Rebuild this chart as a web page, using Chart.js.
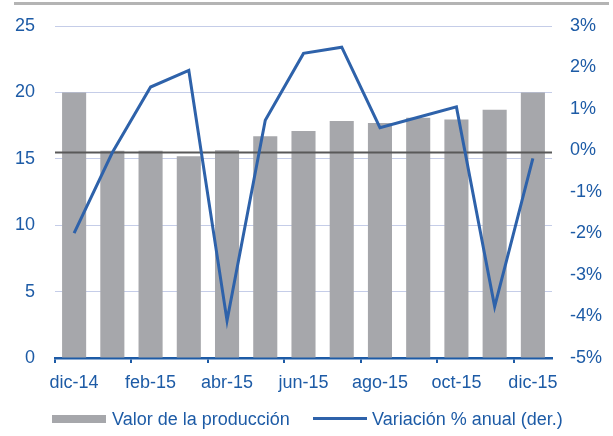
<!DOCTYPE html>
<html>
<head>
<meta charset="utf-8">
<script src="https://cdn.jsdelivr.net/npm/chart.js@4/dist/chart.umd.min.js"></script>
<style>
    body { margin: 0; background: #fff; }
    #wrap { position: relative; width: 613px; height: 436px; font-family: "Liberation Sans", Arial, sans-serif; }
    #topLine { position: absolute; left: 14px; top: 2px; width: 595px; height: 3px; background: #b4b4b4; }
    #chart { position: absolute; left: 0; top: 0; }
    .legend { position: absolute; top: 407px; height: 24px; line-height: 24px; font-size: 18px; color: #1d5ba6; white-space: nowrap; }
    .legend .mark { position: absolute; left: 0; }
</style>
</head>
<body>
<div id="wrap">
    <canvas id="chart" width="613" height="436"></canvas>
    <div id="topLine"></div>
    <div class="legend" style="left:52px;">
        <span class="mark" style="top:8px;width:54px;height:8px;background:#a6a7ab;"></span>
        <span style="padding-left:60px;">Valor de la producción</span>
    </div>
    <div class="legend" style="left:313px;">
        <span class="mark" style="top:10px;width:54px;height:3px;background:#2e62aa;"></span>
        <span style="padding-left:59px;">Variación % anual (der.)</span>
    </div>
</div>
<script>
const meses = ["dic-14", "ene-15", "feb-15", "mar-15", "abr-15", "may-15", "jun-15",
    "jul-15", "ago-15", "sep-15", "oct-15", "nov-15", "dic-15"];

// valor de la producción (eje izq.)
const valorProduccion = [20.0, 15.6, 15.6, 15.2, 15.65, 16.7, 17.1, 17.85, 17.7, 18.1, 17.95, 18.7, 20.0];

// variación % anual (eje der.)
const variacionAnual = [-1.99, -0.05, 1.53, 1.93, -4.1, 0.73, 2.34, 2.49, 0.55, 0.8, 1.05, -3.76, -0.19];

const azul = "#1d5ba6";

Chart.defaults.font.family = "'Liberation Sans', Arial, sans-serif";
Chart.defaults.font.size = 18;
Chart.defaults.color = azul;

// linea del 0% sobre las barras y debajo de la linea
const zeroLine = {
    id: "zeroLine",
    afterDatasetDraw(chart, args) {
        if (args.index !== 0) return;
        const ctx = chart.ctx;
        const y = Math.round(chart.scales.y1.getPixelForValue(0)) + 1.5;
        ctx.save();
        ctx.strokeStyle = "#595959";
        ctx.lineWidth = 2;
        ctx.beginPath();
        ctx.moveTo(chart.chartArea.left, y);
        ctx.lineTo(chart.chartArea.right, y);
        ctx.stroke();
        ctx.restore();
    }
};

const ctx = document.getElementById("chart").getContext("2d");

new Chart(ctx, {
    type: "bar",
    data: {
        labels: meses,
        datasets: [
            {
                label: "Valor de la producción",
                data: valorProduccion,
                backgroundColor: "#a6a7ab",
                barPercentage: 0.63,
                categoryPercentage: 1,
                yAxisID: "y",
                order: 2
            },
            {
                type: "line",
                label: "Variación % anual (der.)",
                data: variacionAnual,
                borderColor: "#2e62aa",
                borderWidth: 3,
                pointRadius: 0,
                tension: 0,
                yAxisID: "y1",
                order: 1
            }
        ]
    },
    options: {
        responsive: false,
        animation: false,
        layout: {
            padding: { top: 26, left: 0, right: 0, bottom: 0 }
        },
        plugins: {
            legend: { display: false },
            tooltip: { enabled: false }
        },
        scales: {
            x: {
                offset: true,
                grid: {
                    offset: true,
                    drawOnChartArea: false,
                    drawTicks: true,
                    tickLength: 5,
                    lineWidth: 2,
                    color: (c) => (c.index % 2 === 0 ? azul : "transparent")
                },
                border: { color: azul, width: 2.5 },
                ticks: {
                    autoSkip: false,
                    maxRotation: 0,
                    padding: 9,
                    callback: (v, i) => (i % 2 === 0 ? meses[i] : "")
                },
                afterFit: (scale) => { scale.height = 78; }
            },
            y: {
                position: "left",
                min: 0,
                max: 25,
                ticks: { stepSize: 5, padding: 4 },
                grid: { color: "#c5cde8", lineWidth: 1, drawTicks: true, tickLength: 16, tickColor: "transparent" },
                border: { display: false },
                afterFit: (scale) => { scale.width = 55; }
            },
            y1: {
                position: "right",
                min: -5,
                max: 3,
                ticks: { stepSize: 1, padding: 4, callback: (v) => v + "%" },
                grid: { drawOnChartArea: false, drawTicks: true, tickLength: 14, tickColor: "transparent" },
                border: { display: false },
                afterFit: (scale) => { scale.width = 61; }
            }
        }
    },
    plugins: [zeroLine]
});
</script>
</body>
</html>
